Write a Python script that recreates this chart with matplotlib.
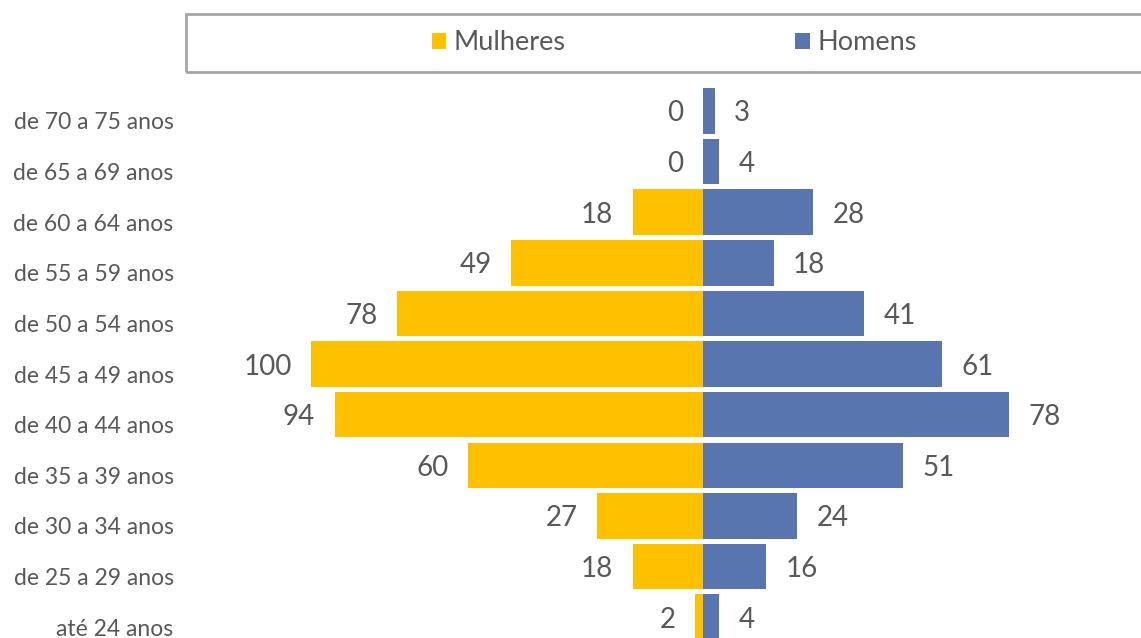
import numpy as np
import matplotlib.pyplot as plt
from matplotlib.patches import Rectangle
from matplotlib.transforms import ScaledTranslation

faixas = ["até 24 anos", "de 25 a 29 anos", "de 30 a 34 anos", "de 35 a 39 anos",
          "de 40 a 44 anos", "de 45 a 49 anos", "de 50 a 54 anos", "de 55 a 59 anos",
          "de 60 a 64 anos", "de 65 a 69 anos", "de 70 a 75 anos"]
mulheres = [2, 18, 27, 60, 94, 100, 78, 49, 18, 0, 0]
homens = [4, 16, 24, 51, 78, 61, 41, 18, 28, 4, 3]

amarelo = "#FFC000"
azul = "#5875AF"
cinza = "#595959"

plt.rcParams['font.family'] = ['Lato', 'DejaVu Sans']

fig = plt.figure(figsize=(11.41, 6.38), dpi=100)
ax = fig.add_axes([186/1141, 0, 955/1141, 1 - 80/638])

y = np.arange(len(faixas))
b1 = ax.barh(y, -np.array(mulheres), height=0.9, color=amarelo, label="Mulheres")
b2 = ax.barh(y, homens, height=0.9, color=azul, label="Homens")

# rótulos das mulheres à esquerda (inclusive os zeros)
for yi, v in zip(y, mulheres):
    ax.annotate(str(v), (-v, yi), xytext=(-14, 0), textcoords="offset points",
                ha="right", va="center_baseline", fontsize=20, color=cinza)
for yi, v in zip(y, homens):
    ax.annotate(str(v), (v, yi), xytext=(14, 0), textcoords="offset points",
                ha="left", va="center_baseline", fontsize=20, color=cinza)

ax.set_xlim(-131.9, 111.7)
ax.set_ylim(-0.41, 10.61)
ax.set_yticks(y)
ax.set_yticklabels(faixas, fontsize=16.5, color=cinza)
ax.tick_params(axis='y', length=0, pad=9)
desloca = ScaledTranslation(0, -0.1, fig.dpi_scale_trans)
for lb in ax.get_yticklabels():
    lb.set_transform(lb.get_transform() + desloca)
ax.set_xticks([])
for s in ax.spines.values():
    s.set_visible(False)

# caixa da legenda
fig.patches.append(Rectangle((186/1141, 1 - 72/638), 1, 58/638, transform=fig.transFigure,
                             fill=False, edgecolor="#A6A6A6", linewidth=2))
fig.legend(handles=[b1, b2], loc='center', bbox_to_anchor=(674/1141, 1 - 43/638),
           ncol=2, frameon=False, fontsize=19.5, labelcolor=cinza,
           handlelength=0.55, handleheight=0.55, handletextpad=0.25, columnspacing=8.5)

plt.savefig("out.png", dpi=100)
